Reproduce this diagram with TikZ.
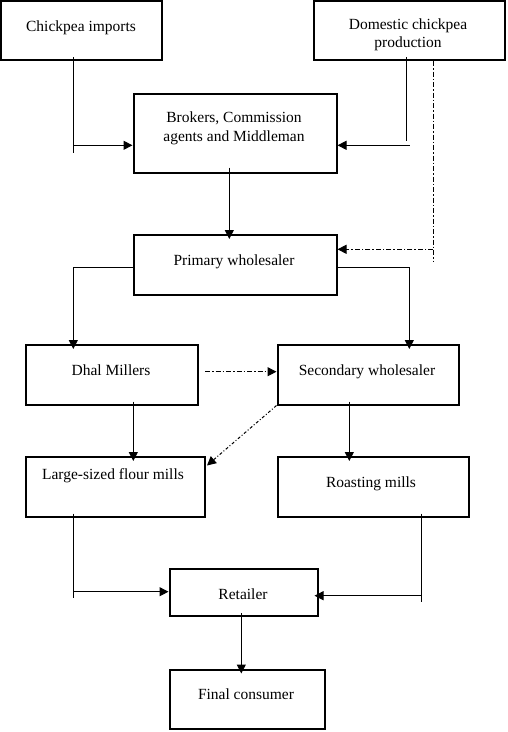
\documentclass[tikz,border=0pt]{standalone}
\usepackage{fontspec}
\setmainfont{Liberation Serif}
\usetikzlibrary{arrows.meta}
\begin{document}
\begin{tikzpicture}[x=1pt,y=-1pt,
  box/.style={draw, line width=2pt, inner sep=0pt, minimum width=#1},
  lbl/.style={font=\fontsize{15.5}{18.5}\selectfont, align=center, inner sep=0pt, anchor=base},
  conn/.style={line width=1pt},
  arr/.style={conn, -{Triangle[length=9pt,width=9pt]}},
  varr/.style={arr, shorten >=-5pt},
  dashdot/.style={dash pattern=on 5pt off 2pt on 1.5pt off 2pt},
  dotdash/.style={dash pattern=on 3pt off 2pt on 1pt off 2pt}]
\useasboundingbox (0,0) rectangle (508,732);
% boxes
\node[box=161pt, minimum height=59pt] (imp) at (81.5,30.5) {};
\node[box=191pt, minimum height=59pt] (dom) at (409,30.5) {};
\node[box=203pt, minimum height=79pt] (brk) at (235,133) {};
\node[box=203pt, minimum height=59.5pt] (prim) at (235,264.75) {};
\node[box=172.5pt, minimum height=59.5pt] (dhal) at (111.75,374.75) {};
\node[box=181pt, minimum height=59.5pt] (sec) at (368,374.75) {};
\node[box=179pt, minimum height=59.5pt] (large) at (115,486.75) {};
\node[box=191.5pt, minimum height=59.5pt] (roast) at (373.25,486.75) {};
\node[box=148pt, minimum height=47pt] (ret) at (243.5,592.5) {};
\node[box=155pt, minimum height=59pt] (fin) at (247,699) {};
% texts
\node[lbl] (timp) at (81,31) {Chickpea imports};
\node[lbl] (tdom) at (408,47.5) {Domestic chickpea\\production};
\node[lbl] (tbrk) at (234,141) {Brokers, Commission\\agents and Middleman};
\node[lbl] (tprim) at (234,265) {Primary wholesaler};
\node[lbl] (tdhal) at (111,375.5) {Dhal Millers};
\node[lbl] (tsec) at (367,375.5) {Secondary wholesaler};
\node[lbl] (tlarge) at (113,479.5) {Large-sized flour mills};
\node[lbl] (troast) at (371,487.5) {Roasting mills};
\node[lbl] (tret) at (243,599) {Retailer};
\node[lbl] (tfin) at (246,699.5) {Final consumer};
% junction coordinates
\coordinate (i1) at (73.3,57);
\coordinate (i2) at (73.3,153);
\coordinate (i3) at (73.3,145.3);
\coordinate (d1) at (406.3,57);
\coordinate (d2) at (406.3,140.7);
\coordinate (d3) at (409.7,145.3);
\coordinate (e1) at (433.3,61);
\coordinate (e2) at (433.3,261.7);
\coordinate (e3) at (433.3,249.3);
\coordinate (p1) at (73.3,267.3);
\coordinate (p2) at (409.3,267.3);
\coordinate (h1) at (205,371.7);
\coordinate (s1) at (207,465.5);
\coordinate (l1) at (73.3,597.7);
\coordinate (l2) at (73.3,591.7);
\coordinate (r1) at (421.7,601.7);
\coordinate (r2) at (421.7,595.7);
% connectors
\draw[conn] (i1) -- (i2);
\draw[arr] (i3) -- (i3 -| brk.west);
\draw[conn] (d1) -- (d2);
\draw[arr] (d3) -- (d3 -| brk.east);
\draw[conn, dashdot] (e1) -- (e2);
\draw[arr, dashdot] (e3) -- (e3 -| prim.east);
\draw[varr] (brk.south -| 229.3,0) ++(0,-6) -- (prim.north -| 229.3,0);
\draw[varr] (p1 -| prim.west) -- (p1) -- (p1 |- dhal.north);
\draw[varr] (p2 -| prim.east) -- (p2) -- (p2 |- sec.north);
\draw[arr, dashdot] (h1) -- (h1 -| sec.west);
\draw[arr, dotdash] (sec.south west) -- (s1);
\draw[varr] (dhal.south -| 133.3,0) ++(0,-4) -- (large.north -| 133.3,0);
\draw[varr] (sec.south -| 349.3,0) ++(0,-4) -- (roast.north -| 349.3,0);
\draw[conn] (large.south -| l1) ++(0,-4) -- (l1);
\draw[arr] (l2) -- (l2 -| ret.west);
\draw[conn] (roast.south -| r1) ++(0,-4) -- (r1);
\draw[arr, shorten >=-4pt] (r2) -- (r2 -| ret.east);
\draw[varr] (ret.south -| 241.3,0) ++(0,-4) -- (fin.north -| 241.3,0);
\end{tikzpicture}
\end{document}
